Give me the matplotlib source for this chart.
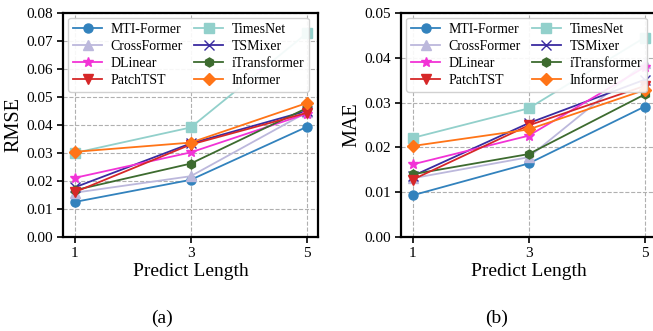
import matplotlib
matplotlib.use('Agg')
import matplotlib.pyplot as plt

plt.rcParams['font.family'] = ['Liberation Serif', 'DejaVu Serif']
plt.rcParams['mathtext.fontset'] = 'stix'

# prediction horizons
lengths = [1, 3, 5]

models = ['MTI-Former', 'TimesNet', 'CrossFormer', 'TSMixer',
          'DLinear', 'iTransformer', 'PatchTST', 'Informer']

# RMSE values
rmse_mti = [0.0125, 0.0204, 0.0393]
rmse_timesnet = [0.0300, 0.0391, 0.0727]
rmse_crossformer = [0.0158, 0.0217, 0.0445]
rmse_tsmixer = [0.0177, 0.0334, 0.0450]
rmse_dlinear = [0.0211, 0.0302, 0.0440]
rmse_itransformer = [0.0167, 0.0262, 0.0460]
rmse_patchtst = [0.0160, 0.0330, 0.0443]
rmse_informer = [0.0304, 0.0337, 0.0478]

# MAE values
mae_mti = [0.0093, 0.0164, 0.0291]
mae_timesnet = [0.0221, 0.0287, 0.0445]
mae_crossformer = [0.0131, 0.0178, 0.0388]
mae_tsmixer = [0.0136, 0.0254, 0.0351]
mae_dlinear = [0.0162, 0.0226, 0.0379]
mae_itransformer = [0.0140, 0.0185, 0.0318]
mae_patchtst = [0.0128, 0.0249, 0.0337]
mae_informer = [0.0203, 0.0240, 0.0328]

rmse = [rmse_mti, rmse_timesnet, rmse_crossformer, rmse_tsmixer,
        rmse_dlinear, rmse_itransformer, rmse_patchtst, rmse_informer]
mae = [mae_mti, mae_timesnet, mae_crossformer, mae_tsmixer,
       mae_dlinear, mae_itransformer, mae_patchtst, mae_informer]

styles = {
    'MTI-Former': ('#3282bd', 'o', 6.5),
    'TimesNet': ('#92d0cb', 's', 6.5),
    'CrossFormer': ('#bcb8dc', '^', 6.5),
    'TSMixer': ('#3a2ba0', 'x', 6.5),
    'DLinear': ('#f233d6', '*', 7.5),
    'iTransformer': ('#3d6b2f', 'h', 6.5),
    'PatchTST': ('#d62728', 'v', 6.5),
    'Informer': ('#ff7417', 'D', 6.5),
}

# legend order is column-wise: left column then right column
legend_order = ['MTI-Former', 'CrossFormer', 'DLinear', 'PatchTST',
                'TimesNet', 'TSMixer', 'iTransformer', 'Informer']

fig = plt.figure(figsize=(6.53, 3.31), dpi=100)
ax1 = fig.add_axes([0.0965, 0.284, 0.391, 0.677])
ax2 = fig.add_axes([0.614, 0.284, 0.391, 0.677])


def draw(ax, values, ylabel, ymax, yticks, fmt):
    handles = {}
    for name, vals in zip(models, values):
        c, m, ms = styles[name]
        h, = ax.plot(lengths, vals, color=c, marker=m, markersize=ms,
                     linewidth=1.3, label=name, clip_on=False)
        handles[name] = h
    ax.set_xlim(0.8, 5.2)
    ax.set_ylim(0, ymax)
    ax.set_xticks(lengths)
    ax.set_yticks(yticks)
    ax.set_yticklabels([fmt.format(t) for t in yticks])
    ax.grid(True, linestyle='--', color='#b0b0b0', linewidth=0.8)
    ax.set_axisbelow(True)
    ax.tick_params(labelsize=11, direction='out', length=4, width=1.2)
    for s in ax.spines.values():
        s.set_linewidth(1.6)
    ax.set_xlabel('Predict Length', fontsize=14, labelpad=2)
    ax.set_ylabel(ylabel, fontsize=14.5, labelpad=2)
    leg = ax.legend([handles[n] for n in legend_order], legend_order,
                    loc='upper left', ncol=2, fontsize=10,
                    bbox_to_anchor=(0.015, 0.985), borderaxespad=0.1,
                    handlelength=2.1, handletextpad=0.6,
                    columnspacing=0.8, labelspacing=0.3,
                    borderpad=0.35, framealpha=0.9, fancybox=True)
    leg.set_zorder(5)


draw(ax1, rmse, 'RMSE', 0.08, [0, 0.01, 0.02, 0.03, 0.04, 0.05, 0.06, 0.07, 0.08], '{:.2f}')
draw(ax2, mae, 'MAE', 0.05, [0, 0.01, 0.02, 0.03, 0.04, 0.05], '{:.2f}')

fig.text(162 / 653, 1 - 318 / 331, '(a)', ha='center', va='center', fontsize=14)
fig.text(497 / 653, 1 - 318 / 331, '(b)', ha='center', va='center', fontsize=14)

fig.savefig('out.png', dpi=100)
